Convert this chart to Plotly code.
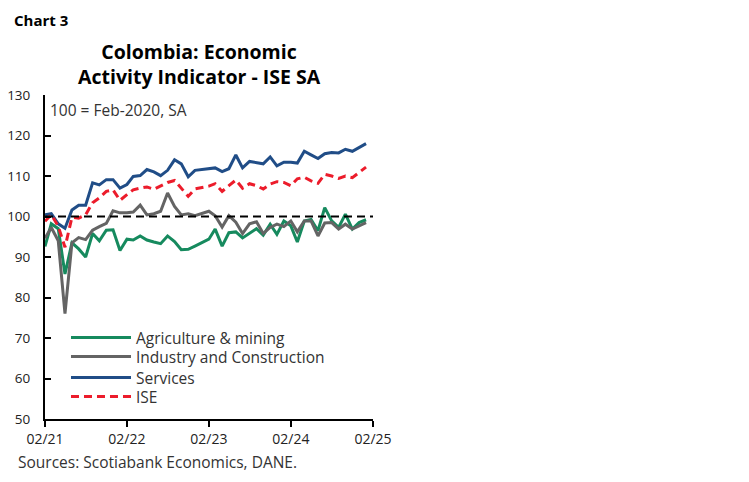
import plotly.graph_objects as go
import pandas as pd

# monthly, Feb-2021 .. Jan-2025 (100 = Feb-2020, SA)
months = pd.date_range("2021-02-01", periods=48, freq="MS")

agri = [92.6, 98.2, 97.0, 85.8, 93.5, 92.0, 90.0, 95.8, 94.0, 96.6,
        96.7, 91.6, 94.4, 94.2, 95.2, 94.2, 93.7, 93.3, 95.2, 93.8,
        91.8, 91.9, 92.7, 93.5, 94.4, 96.9, 92.7, 96.0, 96.2, 94.7,
        95.8, 97.0, 95.4, 98.1, 95.6, 98.9, 97.7, 93.7, 98.9, 99.3,
        96.5, 102.2, 98.9, 97.3, 100.6, 96.9, 98.5, 99.2]

industry = [94.6, 97.3, 94.0, 76.0, 93.5, 94.8, 94.3, 96.6, 97.5, 98.3,
            101.4, 100.9, 100.9, 101.1, 102.8, 100.4, 100.7, 101.3, 105.8, 102.5,
            100.4, 100.7, 100.2, 100.7, 101.3, 100.2, 97.4, 100.2, 98.6, 95.8,
            98.2, 98.7, 95.8, 97.3, 98.1, 97.5, 98.9, 96.2, 98.9, 98.9,
            95.2, 98.4, 98.5, 96.9, 98.1, 96.9, 97.7, 98.5]

services = [100.4, 100.7, 98.2, 97.1, 101.6, 102.8, 102.8, 108.3, 107.8, 109.1,
            109.1, 107.0, 107.9, 109.9, 110.1, 111.6, 111.0, 110.1, 111.4, 114.0,
            113.0, 109.8, 111.4, 111.6, 111.7, 112.0, 111.1, 111.8, 115.2, 112.0,
            113.6, 113.2, 113.0, 114.7, 112.5, 113.4, 113.4, 113.2, 116.1, 115.2,
            114.3, 115.5, 115.8, 115.7, 116.6, 116.1, 117.0, 118.0]

ise = [98.8, 100.5, 97.6, 92.4, 99.8, 99.6, 100.4, 103.4, 104.6, 106.2,
       106.6, 104.0, 105.4, 106.6, 107.0, 107.3, 106.7, 107.5, 108.4, 108.9,
       107.0, 105.0, 106.8, 107.2, 107.5, 108.1, 106.2, 107.6, 109.0, 107.0,
       108.1, 107.6, 106.8, 108.0, 108.6, 108.4, 107.6, 109.3, 109.7, 108.8,
       108.2, 110.4, 110.0, 109.4, 110.0, 109.6, 110.8, 112.2]

tick_dates = ["2021-02-01", "2022-02-01", "2023-02-01", "2024-02-01", "2025-02-01"]
tick_text = ["02/21", "02/22", "02/23", "02/24", "02/25"]

green = '#168a5e'
grey = '#646464'
navy = '#204d87'
red = '#ec1c2b'
selected_font = 'Open Sans'
legend_font = dict(size=15.5, color='#333')

fig = go.Figure()
fig.add_trace(go.Scatter(x=months, y=agri, mode='lines', name='Agriculture & mining',
                         line=dict(color=green, width=3), legend='legend'))
fig.add_trace(go.Scatter(x=months, y=industry, mode='lines', name='Industry and Construction',
                         line=dict(color=grey, width=3), legend='legend2'))
fig.add_trace(go.Scatter(x=months, y=services, mode='lines', name='Services',
                         line=dict(color=navy, width=3), legend='legend3'))
fig.add_trace(go.Scatter(x=months, y=ise, mode='lines', name='ISE',
                         line=dict(color=red, width=3, dash='8px,5px'), legend='legend4'))

# reference line at 100
fig.add_shape(type='line', xref='paper', x0=0, x1=1, yref='y', y0=100, y1=100,
              line=dict(color='black', width=2, dash='8px,5px'))

# one legend per row so the rows sit as tight as in the original
leg = dict(x=0.064, xanchor='left', yanchor='middle', bgcolor='rgba(0,0,0,0)',
           itemwidth=60, font=legend_font)

fig.update_layout(
    width=749, height=482,
    margin=dict(l=37, r=384, t=87, b=71),
    paper_bgcolor='white', plot_bgcolor='white',
    font=dict(family=selected_font, size=14, color='#222'),
    showlegend=True,
    legend=dict(leg, y=0.25),
    legend2=dict(leg, y=0.1914),
    legend3=dict(leg, y=0.1265),
    legend4=dict(leg, y=0.0679),
    xaxis=dict(range=["2021-02-01", "2025-02-01"], tickmode='array',
               tickvals=tick_dates, ticktext=tick_text,
               showgrid=False, zeroline=False, automargin=False,
               showline=True, linecolor='black', linewidth=2,
               ticks='outside', ticklen=6, tickwidth=2, tickcolor='black'),
    yaxis=dict(range=[50, 130], tickmode='linear', tick0=50, dtick=10,
               showgrid=False, zeroline=False, automargin=False,
               showline=True, linecolor='black', linewidth=2,
               ticks='inside', ticklen=6, tickwidth=2, tickcolor='black',
               ticklabelstandoff=10, tickfont=dict(size=13.5)),
)

fig.add_annotation(text='<b>Chart 3</b>', xref='paper', yref='paper',
                   x=-0.102, y=1.233, xanchor='left', yanchor='middle',
                   showarrow=False, font=dict(size=15, color='black'))
fig.add_annotation(text='<b>Colombia: Economic<br>Activity Indicator - ISE SA</b>',
                   xref='paper', yref='paper', x=0.47, y=1.095,
                   xanchor='center', yanchor='middle', showarrow=False,
                   font=dict(size=19.5, color='black'))
fig.add_annotation(text='100 = Feb-2020, SA', xref='paper', yref='paper',
                   x=0.01, y=0.955, xanchor='left', yanchor='middle',
                   showarrow=False, font=dict(size=15.5, color='#333'))
fig.add_annotation(text='Sources: Scotiabank Economics, DANE.', xref='paper', yref='paper',
                   x=-0.088, y=-0.133, xanchor='left', yanchor='middle',
                   showarrow=False, font=dict(size=15.5, color='#333'))

fig.write_html("out.html")
